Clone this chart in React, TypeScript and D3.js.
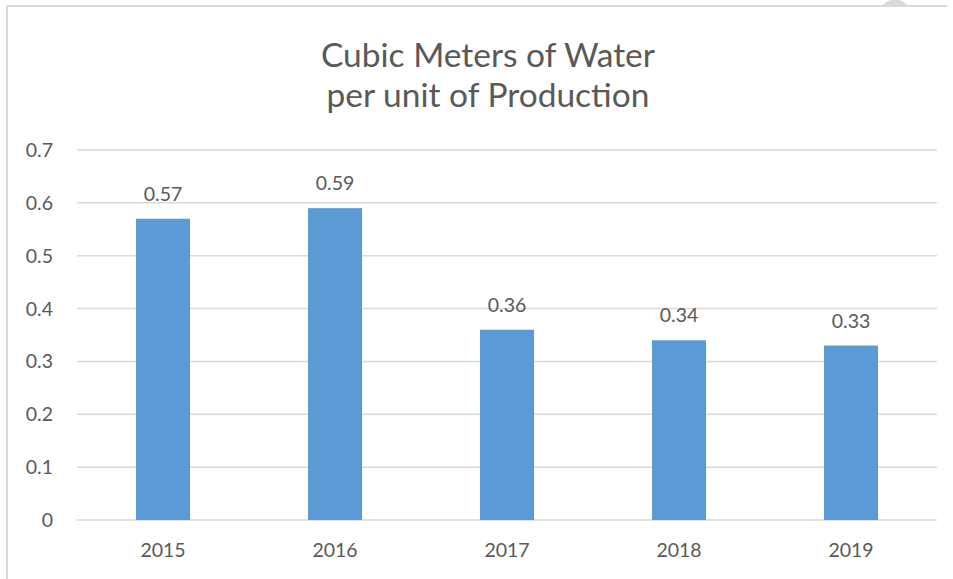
import React from "react";
import * as d3 from "d3";

const categories: string[] = ["2015", "2016", "2017", "2018", "2019"];
const values: number[] = [0.57, 0.59, 0.36, 0.34, 0.33];
const yTicks: number[] = [0, 0.1, 0.2, 0.3, 0.4, 0.5, 0.6, 0.7];
const titleLines: string[] = ["Cubic Meters of Water", "per unit of Production"];

const W = 953;
const H = 579;
const FONT = "Lato, 'Open Sans', sans-serif";
const TEXT = "#595959";
const GRID = "#d9d9d9";
const BAR = "#5b9bd5";

export default function App() {
  const plotLeft = 77;
  const plotRight = 937;
  const plotTop = 150;
  const plotBottom = 520;

  const x = d3.scaleBand<string>().domain(categories).range([plotLeft, plotRight]).paddingInner(0.686).paddingOuter(0.343);
  const y = d3.scaleLinear().domain([0, 0.7]).range([plotBottom, plotTop]);
  const fmt = (v: number) => (v === 0 ? "0" : d3.format(".1f")(v));

  return (
    <svg width={W} height={H} style={{ position: "absolute", left: 0, top: 0, display: "block" }}>
      <rect x={0} y={0} width={W} height={H} fill="#fff" />
      <line x1={7} y1={6} x2={947} y2={6} stroke={GRID} strokeWidth={2} />
      <line x1={7} y1={6} x2={7} y2={H} stroke={GRID} strokeWidth={2} />
      <path d="M882,6 Q887,0 892,0 L898,0 Q903,0 908,6 Z" fill={GRID} />
      {titleLines.map((t, i) => (
        <text key={t} x={488} y={67 + i * 40} textAnchor="middle" fontFamily={FONT} fontSize={33.5} fill={TEXT}>
          {t}
        </text>
      ))}
      {yTicks.map((t) => (
        <g key={t}>
          <line x1={plotLeft} x2={plotRight} y1={y(t)} y2={y(t)} stroke={GRID} strokeWidth={1.5} />
          <text x={53} y={y(t)} dy="0.36em" textAnchor="end" fontFamily={FONT} fontSize={19.5} fill={TEXT}>
            {fmt(t)}
          </text>
        </g>
      ))}
      {categories.map((c, i) => (
        <g key={c}>
          <rect x={x(c)} y={y(values[i])} width={x.bandwidth()} height={plotBottom - y(values[i])} fill={BAR} />
          <text x={(x(c) as number) + x.bandwidth() / 2} y={y(values[i]) - 18} textAnchor="middle" fontFamily={FONT} fontSize={19.5} fill={TEXT}>
            {values[i].toFixed(2)}
          </text>
          <text x={(x(c) as number) + x.bandwidth() / 2} y={557} textAnchor="middle" fontFamily={FONT} fontSize={19.5} fill={TEXT}>
            {c}
          </text>
        </g>
      ))}
    </svg>
  );
}
